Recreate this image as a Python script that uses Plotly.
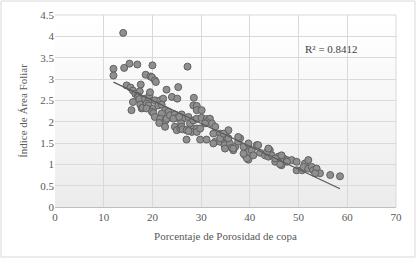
import numpy as np
import plotly.graph_objects as go

porosidad = [
    12.0, 12.0, 14.0, 14.2, 15.3, 16.9, 14.7, 15.5, 16.0, 16.5,
    17.6, 17.4, 17.0, 17.1, 17.3, 16.0, 15.7, 17.5, 17.8, 18.0,
    18.6, 19.6, 20.0, 19.9, 20.5, 20.7, 18.5, 19.2, 19.4, 19.5,
    18.8, 19.2, 18.8, 20.2, 19.9, 20.5, 21.6, 22.2, 21.2, 21.9,
    22.6, 23.3, 20.2, 21.9, 20.5, 21.6, 21.4, 22.7, 22.9, 23.6,
    24.6, 26.0, 25.0, 26.3, 27.4, 24.3, 25.5, 25.9, 22.9, 25.3,
    24.0, 25.1, 27.2, 28.5, 28.4, 29.1, 22.6, 24.6, 25.0, 25.7,
    26.0, 26.2, 27.0, 27.7, 28.4, 28.1, 27.0, 27.4, 27.7, 28.4,
    29.1, 30.1, 29.1, 30.1, 31.1, 31.8, 31.1, 32.2, 32.9, 29.1,
    29.1, 29.8, 31.1, 29.8, 30.8, 32.5, 33.9, 35.6, 32.9, 33.9,
    34.9, 34.6, 35.2, 34.8, 34.9, 35.9, 36.3, 37.0, 37.6, 38.0,
    37.6, 39.0, 39.7, 39.0, 39.7, 33.9, 34.6, 32.5, 36.6, 38.7,
    39.7, 39.7, 39.4, 40.4, 41.4, 40.7, 42.1, 43.1, 44.1, 43.8,
    44.5, 45.9, 46.9, 46.5, 47.6, 48.6, 49.6, 45.2, 46.2, 49.6,
    45.2, 46.5, 47.6, 50.7, 51.3, 52.0, 51.0, 52.0, 52.7, 53.0,
    53.7, 54.4, 53.4, 56.5, 58.5, 41.7, 43.5, 43.8, 38.7, 35.6,
    36.6,
]
iaf = [
    3.24, 3.08, 4.08, 3.26, 3.36, 3.34, 2.85, 2.80, 2.73, 2.65,
    2.87, 2.71, 2.60, 2.58, 2.53, 2.46, 2.27, 2.40, 2.31, 2.33,
    3.10, 3.06, 3.32, 3.04, 2.97, 2.93, 2.54, 2.50, 2.62, 2.69,
    2.42, 2.38, 2.31, 2.31, 2.23, 2.50, 2.50, 2.54, 2.38, 2.40,
    2.27, 2.23, 2.20, 2.19, 2.11, 2.07, 1.97, 2.03, 2.07, 2.15,
    2.17, 2.17, 2.09, 2.07, 2.11, 2.07, 2.11, 1.96, 2.75, 2.81,
    2.58, 2.54, 3.29, 2.56, 2.38, 2.37, 1.88, 1.88, 1.80, 1.84,
    1.88, 1.82, 1.80, 1.85, 1.84, 1.76, 1.58, 1.78, 1.96, 2.03,
    2.27, 2.27, 2.07, 2.09, 2.06, 2.07, 1.99, 1.96, 1.88, 1.84,
    1.76, 1.58, 1.58, 1.84, 1.96, 1.72, 1.72, 1.80, 1.53, 1.53,
    1.54, 1.64, 1.64, 1.45, 1.37, 1.49, 1.39, 1.41, 1.53, 1.61,
    1.64, 1.37, 1.41, 1.21, 1.11, 1.61, 1.72, 1.49, 1.33, 1.41,
    1.49, 1.29, 1.14, 1.33, 1.45, 1.21, 1.27, 1.21, 1.33, 1.18,
    1.21, 1.18, 1.14, 0.98, 1.10, 1.10, 1.06, 1.06, 1.00, 0.86,
    1.14, 1.21, 1.06, 0.86, 1.02, 1.10, 0.94, 0.90, 0.94, 0.86,
    0.90, 0.79, 0.79, 0.75, 0.72, 1.45, 1.29, 1.37, 1.25, 1.61,
    1.37,
]
y_ticks = [0, 0.5, 1, 1.5, 2, 2.5, 3, 3.5, 4, 4.5]
y_tick_labels = ["0", "0.5", "1", "1.5", "2", "2.5", "3", "3.5", "4", "4.5"]
x_ticks = [0, 10, 20, 30, 40, 50, 60, 70]
r2_label = "R² = 0.8412"
x_title = "Porcentaje de Porosidad de copa"
y_title = "Índice de Área Foliar"

x = np.array(porosidad)
y = np.array(iaf)
slope, intercept = np.polyfit(x, y, 1)
xl = np.array([x.min(), x.max()])
yl = slope * xl + intercept

fig = go.Figure()
fig.add_trace(go.Scatter(
    x=x, y=y, mode="markers",
    marker=dict(size=7, color="#8f8f8f", line=dict(color="#606060", width=1)),
    showlegend=False, hoverinfo="skip"))
fig.add_trace(go.Scatter(
    x=xl, y=yl, mode="lines",
    line=dict(color="#595959", width=1.2),
    showlegend=False, hoverinfo="skip"))

# gradient plot background via stacked bands
shapes = []
n = 24
for i in range(n):
    t = i / (n - 1)
    c = int(round(255 - (255 - 236) * (1 - t)))
    shapes.append(dict(type="rect", xref="paper", yref="paper",
                       x0=0, x1=1, y0=i / n, y1=(i + 1) / n,
                       fillcolor=f"rgb({c},{c},{c})", line=dict(width=0),
                       layer="below"))
# chart border
shapes.append(dict(type="rect", xref="paper", yref="paper",
                   x0=-0.1584, x1=1.0557, y0=-0.2604, y1=1.0729,
                   line=dict(color="#d9d9d9", width=1), fillcolor="rgba(0,0,0,0)"))
shapes.append(dict(type="line", xref="paper", yref="paper", x0=1, x1=1, y0=0, y1=1,
                   line=dict(color="#d9d9d9", width=1), layer="below"))
shapes.append(dict(type="line", xref="paper", yref="paper", x0=0, x1=1, y0=1, y1=1,
                   line=dict(color="#d9d9d9", width=1), layer="below"))

serif = "Liberation Serif, Times New Roman, serif"
font_tick = dict(family=serif, size=11, color="#595959")

fig.update_layout(
    width=417, height=259,
    margin=dict(l=55, r=21, t=15, b=52, autoexpand=False),
    paper_bgcolor="white", plot_bgcolor="rgba(0,0,0,0)",
    font=dict(family=serif),
    shapes=shapes,
    xaxis=dict(range=[0, 70], tickmode="array", tickvals=x_ticks,
               showgrid=True, gridcolor="#d9d9d9", gridwidth=1, zeroline=False,
               showline=True, linecolor="#bfbfbf", linewidth=1,
               ticks="", tickfont=font_tick, automargin=False,
               title=dict(text=x_title, font=font_tick, standoff=10)),
    yaxis=dict(range=[0, 4.5], tickmode="array", tickvals=y_ticks,
               ticktext=y_tick_labels, showgrid=True,
               gridcolor="#d9d9d9", gridwidth=1, zeroline=False,
               showline=False, ticks="", tickfont=font_tick, automargin=False,
               title=dict(text=y_title, font=font_tick, standoff=10)),
    annotations=[dict(x=50.9, y=3.70, xref="x", yref="y", text=r2_label,
                      showarrow=False, xanchor="left", yanchor="middle",
                      font=dict(family=serif, size=11, color="#404040"))],
)

fig.write_html("out.html", config={"displayModeBar": False},
               post_script="document.body.style.margin='0';document.body.style.overflow='hidden';")
